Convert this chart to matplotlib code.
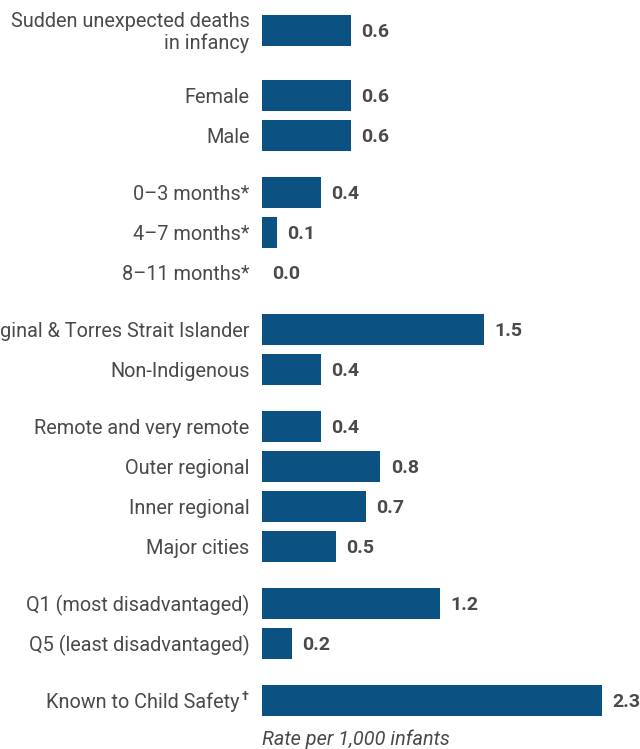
import matplotlib.pyplot as plt

# rates per 1,000 infants, grouped as in the report
groups = [
    ["Sudden unexpected deaths\nin infancy"],
    ["Female", "Male"],
    ["0–3 months*", "4–7 months*", "8–11 months*"],
    ["Aboriginal & Torres Strait Islander", "Non-Indigenous"],
    ["Remote and very remote", "Outer regional", "Inner regional", "Major cities"],
    ["Q1 (most disadvantaged)", "Q5 (least disadvantaged)"],
    ["Known to Child Safety"],
]
values = [
    [0.6],
    [0.6, 0.6],
    [0.4, 0.1, 0.0],
    [1.5, 0.4],
    [0.4, 0.8, 0.7, 0.5],
    [1.2, 0.2],
    [2.3],
]

bar_color = "#0b5181"
text_color = "#4a4a4a"
font = "Roboto"

# row positions: 1 per bar, extra space between groups
labels, vals, ypos = [], [], []
y = 0.0
for gi, (g, v) in enumerate(zip(groups, values)):
    if gi == 1:
        y += 1.625
    elif gi > 1:
        y += 1.425
    for j, (lab, val) in enumerate(zip(g, v)):
        if j > 0:
            y += 1.0
        labels.append(lab)
        vals.append(val)
        ypos.append(y)

fig = plt.figure(figsize=(6.4, 7.49), dpi=100)
ax = fig.add_axes([262 / 640, 1 - 720 / 749, 1 - 262 / 640, 720 / 749])

ax.barh(ypos, vals, height=0.78, color=bar_color)

for lab, val, yy in zip(labels, vals, ypos):
    ax.annotate(f"{val:.1f}", xy=(val, yy), xytext=(7.5, -1), textcoords="offset points",
                ha="left", va="center", fontsize=14, fontweight="bold",
                color=text_color, family=font)
    if lab == "Known to Child Safety":
        t = ax.annotate(lab, xy=(0, yy), xytext=(-16, -1.5), textcoords="offset points",
                        ha="right", va="center", fontsize=14.3, color=text_color, family=font)
        ax.annotate("†", xy=(1, 0.8), xycoords=t, xytext=(1.5, 0), textcoords="offset points",
                    ha="left", va="center", fontsize=9, fontweight="bold",
                    color=text_color, family=font)
    else:
        ax.annotate(lab, xy=(0, yy), xytext=(-9, -1.5), textcoords="offset points",
                    ha="right", va="center", fontsize=14.3, color=text_color,
                    family=font, linespacing=1.2)

ax.set_xlim(0, 378 / 148)
ax.set_ylim((720 - 30.5) / 40, -30.5 / 40)
ax.axis("off")

fig.text(262 / 640, 1 - 739 / 749, "Rate per 1,000 infants", ha="left", va="center",
         fontsize=14.3, style="italic", color=text_color, family=font)

fig.savefig("out.png", dpi=100)
